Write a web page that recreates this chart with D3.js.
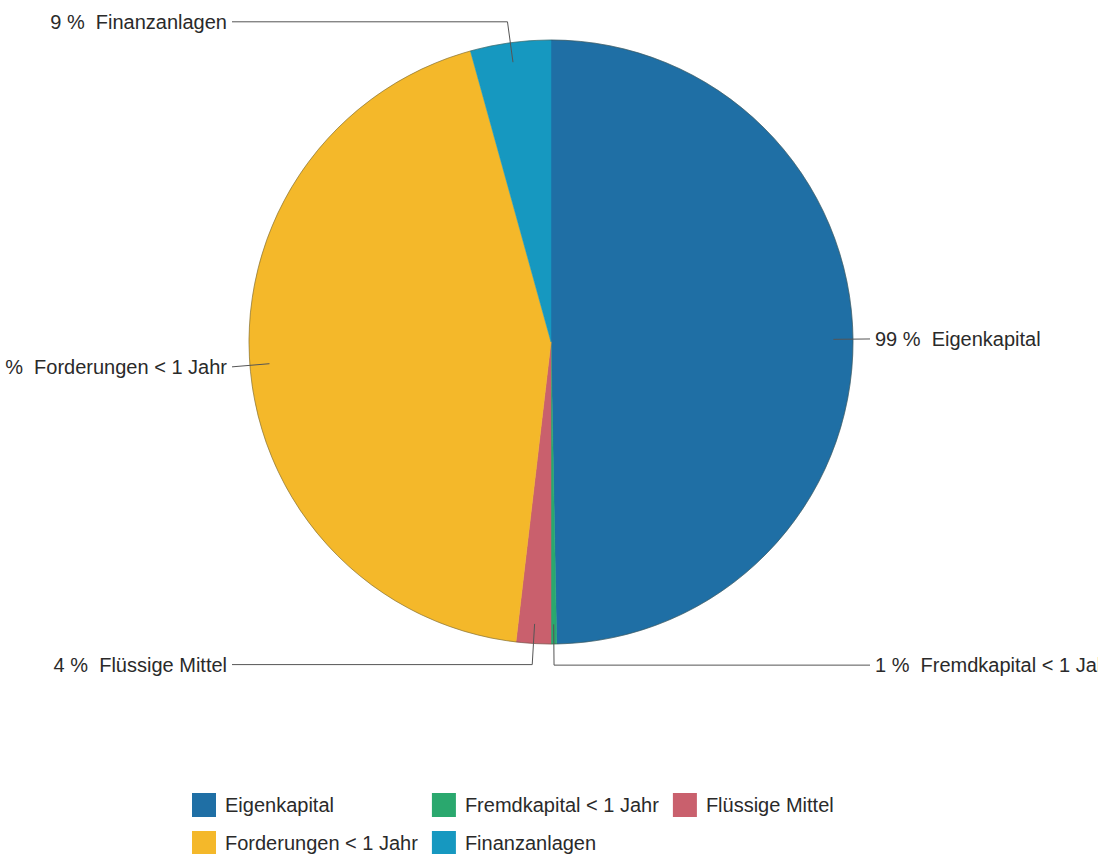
<!DOCTYPE html>
<html>
<head>
<meta charset="utf-8">
<script src="https://cdn.jsdelivr.net/npm/d3@7"></script>
<style>
  body { margin: 0; background: #fff; }
  svg { display: block; font-family: "Liberation Sans", Arial, sans-serif; }
</style>
</head>
<body>
<svg id="chart" width="1098" height="854"></svg>
<script>
// balance sheet shares, in percent of their own side
var categories = ["Eigenkapital", "Fremdkapital < 1 Jahr", "Flüssige Mittel", "Forderungen < 1 Jahr", "Finanzanlagen"];
var sides      = ["Passiva", "Passiva", "Aktiva", "Aktiva", "Aktiva"];
var shares     = [99.4, 0.6, 3.7, 87.7, 8.6];
var colors     = ["#1f6fa5", "#2aa86e", "#c9606d", "#f4b82a", "#1698c0"];

var width = 1098,
    height = 854,
    cx = 551,
    cy = 342,
    radius = 302,
    fontSize = 20
;

var svg = d3.select("#chart");

var data = categories.map(function(name, i) {
    return { name: name, side: sides[i], value: shares[i], color: colors[i] };
});

var sideTotals = d3.rollup(data, v => d3.sum(v, d => d.value), d => d.side);

var pie = d3.pie().sort(null).value(d => d.value),
    arc = d3.arc().innerRadius(0).outerRadius(radius),
    arcs = pie(data);

var g = svg.append("g").attr("transform", "translate(" + cx + "," + cy + ")");

g.selectAll("path.slice")
    .data(arcs)
    .enter().append("path")
    .attr("class", "slice")
    .attr("d", arc)
    .attr("fill", d => d.data.color)
    .attr("stroke", d => d.data.color)
    .attr("stroke-width", 0.5);

g.append("circle")
    .attr("r", radius)
    .attr("fill", "none")
    .attr("stroke", "rgba(70,70,50,0.45)")
    .attr("stroke-width", 1);

// labels with leader lines
function pt(angle, r) {
    return [r * Math.sin(angle), -r * Math.cos(angle)];
}

var labelRight = radius + 22,
    labelLeft = -radius - 22,
    gap = 5;

arcs.forEach(function(d) {
    var mid = (d.startAngle + d.endAngle) / 2,
        right = Math.sin(mid) >= 0,
        inner = pt(mid, radius * 0.935),
        elbow = pt(mid, radius * 1.07),
        lx = right ? labelRight : labelLeft,
        endX = right ? lx - gap : lx + gap;

    if ( right && elbow[0] > endX ) elbow[0] = endX;
    if ( !right && elbow[0] < endX ) elbow[0] = endX;

    g.append("polyline")
        .attr("points", [inner, elbow, [endX, elbow[1]]].map(p => p.join(",")).join(" "))
        .attr("fill", "none")
        .attr("stroke", "#555")
        .attr("stroke-width", 1);

    var pct = Math.round(d.data.value / sideTotals.get(d.data.side) * 100);

    g.append("text")
        .attr("x", lx)
        .attr("y", elbow[1])
        .attr("dy", "0.35em")
        .attr("text-anchor", right ? "start" : "end")
        .attr("font-size", fontSize)
        .attr("fill", "#2a2a2a")
        .attr("xml:space", "preserve")
        .style("white-space", "pre")
        .text(pct + " %  " + d.data.name);
});

// legend, laid out in a grid of three columns
var legendX = 192,
    legendY = 793,
    box = 24,
    rowStep = 38,
    columns = 3,
    textGap = 9,
    colPad = 14;

var legend = svg.append("g");

var measure = legend.append("text").attr("font-size", fontSize);
var textWidths = data.map(function(d) {
    measure.text(d.name);
    return measure.node().getComputedTextLength();
});
measure.remove();

var colX = [legendX];
for ( var c = 1; c < columns; c++ ) {
    var w = d3.max(textWidths.filter((t, i) => i % columns == c - 1));
    colX.push(colX[c - 1] + box + textGap + w + colPad);
}

data.forEach(function(d, i) {
    var x = colX[i % columns],
        y = legendY + Math.floor(i / columns) * rowStep;
    legend.append("rect")
        .attr("x", x)
        .attr("y", y)
        .attr("width", box)
        .attr("height", box)
        .attr("fill", d.color);
    legend.append("text")
        .attr("x", x + box + textGap)
        .attr("y", y + box / 2)
        .attr("dy", "0.35em")
        .attr("font-size", fontSize)
        .attr("fill", "#2a2a2a")
        .text(d.name);
});
</script>
</body>
</html>
